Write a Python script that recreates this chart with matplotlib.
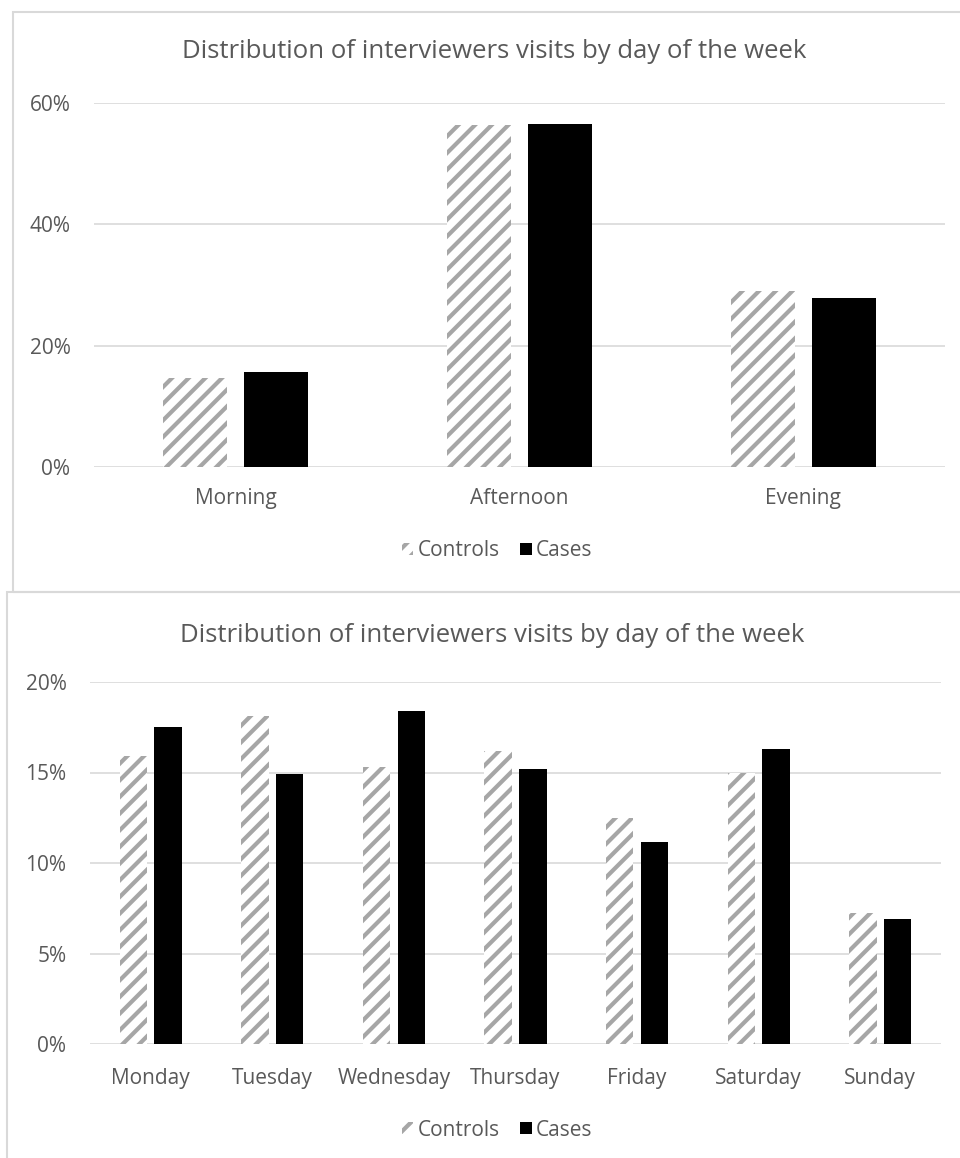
import matplotlib.pyplot as plt
import numpy as np
from matplotlib.patches import Rectangle
from matplotlib.ticker import PercentFormatter

# Share of visits (%) by time of day
times = ['Morning', 'Afternoon', 'Evening']
time_controls = [14.7, 56.3, 29.0]
time_cases = [15.7, 56.5, 27.9]

# Share of visits (%) by day of the week
days = ['Monday', 'Tuesday', 'Wednesday', 'Thursday', 'Friday', 'Saturday', 'Sunday']
day_controls = [15.9, 18.1, 15.3, 16.2, 12.5, 15.0, 7.25]
day_cases = [17.5, 14.9, 18.4, 15.2, 11.15, 16.3, 6.9]

title = 'Distribution of interviewers visits by day of the week'

plt.rcParams['font.family'] = ['Open Sans', 'DejaVu Sans']
plt.rcParams['hatch.linewidth'] = 3.0

text_color = '#595959'
grid_color = '#D9D9D9'
hatch_color = '#A6A6A6'

W, H = 960, 1158
fig = plt.figure(figsize=(W / 100, H / 100), dpi=100)


def fx(px):
  return px / W


def fy(py):
  return 1 - py / H


def draw_panel(ax, labels, controls, cases, ymax, ystep, xpad, width=0.225, offset=0.143):
  x = np.arange(len(labels))
  ax.bar(x - offset, controls, width, facecolor='white', edgecolor=hatch_color,
         linewidth=0, hatch='//', zorder=3)
  ax.bar(x + offset, cases, width, color='black', linewidth=0, zorder=3)

  ax.set_xlim(-0.5, len(labels) - 0.5)
  ax.set_ylim(0, ymax)
  ax.set_yticks(np.arange(0, ymax + 0.01, ystep))
  ax.yaxis.set_major_formatter(PercentFormatter(decimals=0))
  ax.set_xticks(x)
  ax.set_xticklabels(labels)
  ax.grid(axis='y', color=grid_color, linewidth=1.2, zorder=0)
  ax.set_axisbelow(True)
  for side in ['top', 'right', 'left', 'bottom']:
    ax.spines[side].set_visible(False)
  ax.tick_params(axis='both', length=0, colors=text_color, labelsize=15)
  ax.tick_params(axis='y', pad=17)
  ax.tick_params(axis='x', pad=xpad)


# top panel: time of day
ax1 = fig.add_axes([fx(94), fy(467), fx(851), (467 - 103) / H])
draw_panel(ax1, times, time_controls, time_cases, 60, 20, xpad=15)

# bottom panel: day of week
ax2 = fig.add_axes([fx(90), fy(1044), fx(851), (1044 - 682) / H])
draw_panel(ax2, days, day_controls, day_cases, 20, 5, xpad=17)

fig.text(fx(494), fy(52), title, ha='center', va='center', fontsize=18.5, color=text_color)
fig.text(fx(492), fy(635), title, ha='center', va='center', fontsize=18.5, color=text_color)

# legends under each panel
for ax, ly in [(ax1, 551), (ax2, 1130)]:
  handles = ax.containers
  fig.legend(handles, ['Controls', 'Cases'], loc='center', bbox_to_anchor=(fx(497), fy(ly)),
             ncol=2, frameon=False, fontsize=15, labelcolor=text_color,
             handlelength=0.55, handleheight=0.55, handletextpad=0.2, columnspacing=1.0)

# chart-area borders
fig.patches.append(Rectangle((fx(13), fy(592)), 1.2, (592 - 12) / H, transform=fig.transFigure,
                             fill=False, edgecolor=grid_color, linewidth=1.5, zorder=0))
fig.patches.append(Rectangle((fx(7), -0.1), 1.2, fy(592) + 0.1, transform=fig.transFigure,
                             fill=False, edgecolor=grid_color, linewidth=1.5, zorder=0))

fig.savefig('out.png', dpi=100)
